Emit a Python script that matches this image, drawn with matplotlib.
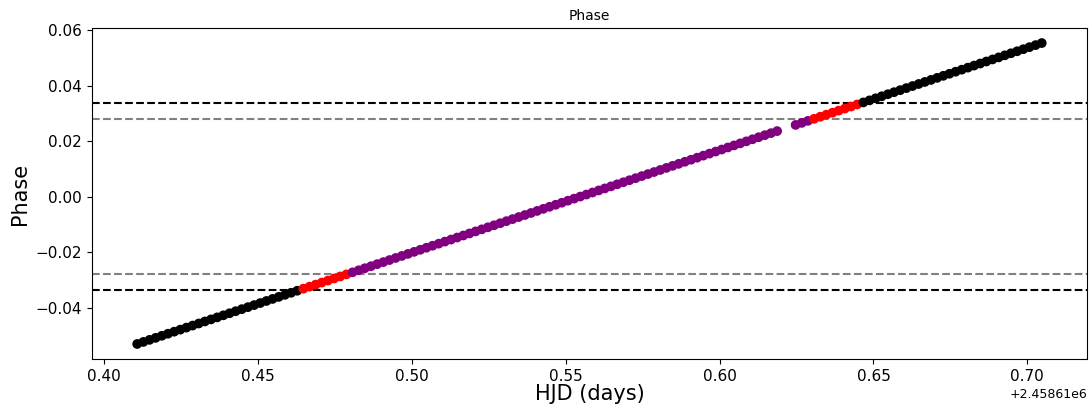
import matplotlib
matplotlib.use('Agg')
import matplotlib.pyplot as plt
import numpy as np

# HJD = base + fraction
hjd_base = 2458610.0
hjd_frac = [
    0.4107, 0.4127, 0.4147, 0.4167, 0.4187, 0.4207, 0.4227, 0.4247, 0.4267, 0.4287,
    0.4307, 0.4327, 0.4347, 0.4367, 0.4387, 0.4407, 0.4427, 0.4447, 0.4467, 0.4487,
    0.4507, 0.4527, 0.4547, 0.4567, 0.4587, 0.4607, 0.4627, 0.4647, 0.4667, 0.4687,
    0.4707, 0.4727, 0.4747, 0.4767, 0.4787, 0.4807, 0.4827, 0.4847, 0.4867, 0.4887,
    0.4907, 0.4927, 0.4947, 0.4967, 0.4987, 0.5007, 0.5027, 0.5047, 0.5067, 0.5087,
    0.5107, 0.5127, 0.5147, 0.5167, 0.5187, 0.5207, 0.5227, 0.5247, 0.5267, 0.5287,
    0.5307, 0.5327, 0.5347, 0.5367, 0.5387, 0.5407, 0.5427, 0.5447, 0.5467, 0.5487,
    0.5507, 0.5527, 0.5547, 0.5567, 0.5587, 0.5607, 0.5627, 0.5647, 0.5667, 0.5687,
    0.5707, 0.5727, 0.5747, 0.5767, 0.5787, 0.5807, 0.5827, 0.5847, 0.5867, 0.5887,
    0.5907, 0.5927, 0.5947, 0.5967, 0.5987, 0.6007, 0.6027, 0.6047, 0.6067, 0.6087,
    0.6107, 0.6127, 0.6147, 0.6167, 0.6187,
    0.6247, 0.6267, 0.6287, 0.6307, 0.6327, 0.6347, 0.6367, 0.6387, 0.6407,
    0.6427, 0.6447, 0.6467, 0.6487, 0.6507, 0.6527, 0.6547, 0.6567, 0.6587, 0.6607,
    0.6627, 0.6647, 0.6667, 0.6687, 0.6707, 0.6727, 0.6747, 0.6767, 0.6787, 0.6807,
    0.6827, 0.6847, 0.6867, 0.6887, 0.6907, 0.6927, 0.6947, 0.6967, 0.6987, 0.7007,
    0.7027, 0.7047,
]
phase = [
    -0.05310, -0.05236, -0.05162, -0.05089, -0.05015, -0.04941, -0.04867, -0.04793, -0.04720, -0.04646,
    -0.04572, -0.04498, -0.04424, -0.04351, -0.04277, -0.04203, -0.04129, -0.04055, -0.03982, -0.03908,
    -0.03834, -0.03760, -0.03686, -0.03613, -0.03539, -0.03465, -0.03391, -0.03317, -0.03244, -0.03170,
    -0.03096, -0.03022, -0.02948, -0.02875, -0.02801, -0.02727, -0.02653, -0.02579, -0.02506, -0.02432,
    -0.02358, -0.02284, -0.02210, -0.02137, -0.02063, -0.01989, -0.01915, -0.01841, -0.01768, -0.01694,
    -0.01620, -0.01546, -0.01472, -0.01399, -0.01325, -0.01251, -0.01177, -0.01103, -0.01030, -0.00956,
    -0.00882, -0.00808, -0.00734, -0.00661, -0.00587, -0.00513, -0.00439, -0.00365, -0.00292, -0.00218,
    -0.00144, -0.00070, 0.00004, 0.00077, 0.00151, 0.00225, 0.00299, 0.00373, 0.00446, 0.00520,
    0.00594, 0.00668, 0.00742, 0.00815, 0.00889, 0.00963, 0.01037, 0.01111, 0.01184, 0.01258,
    0.01332, 0.01406, 0.01480, 0.01553, 0.01627, 0.01701, 0.01775, 0.01849, 0.01922, 0.01996,
    0.02070, 0.02144, 0.02218, 0.02291, 0.02365,
    0.02587, 0.02660, 0.02734, 0.02808, 0.02882, 0.02956, 0.03029, 0.03103, 0.03177,
    0.03251, 0.03325, 0.03398, 0.03472, 0.03546, 0.03620, 0.03694, 0.03767, 0.03841, 0.03915,
    0.03989, 0.04063, 0.04136, 0.04210, 0.04284, 0.04358, 0.04432, 0.04505, 0.04579, 0.04653,
    0.04727, 0.04801, 0.04874, 0.04948, 0.05022, 0.05096, 0.05170, 0.05243, 0.05317, 0.05391,
    0.05465, 0.05539,
]

# transit contact limits in phase
outer_lim = 0.0337
inner_lim = 0.0280

hjd = hjd_base + np.array(hjd_frac)
ph = np.array(phase)

colors = []
for p in ph:
    if abs(p) > outer_lim:
        colors.append('black')
    elif abs(p) > inner_lim:
        colors.append('red')
    else:
        colors.append('purple')

fig = plt.figure(figsize=(10.91, 4.07), dpi=100)
ax = fig.add_subplot(111)
fig.subplots_adjust(left=0.0843, right=0.9963, top=0.9312, bottom=0.1179)

ax.scatter(hjd, ph, c=colors, s=36, zorder=3)
ax.axhline(outer_lim, color='black', ls='--')
ax.axhline(-outer_lim, color='black', ls='--')
ax.axhline(inner_lim, color='gray', ls='--')
ax.axhline(-inner_lim, color='gray', ls='--')

ax.set_title('Phase', fontsize=10)
ax.set_xlabel('HJD (days)', fontsize=15, labelpad=0)
ax.set_ylabel('Phase', fontsize=15)
ax.tick_params(labelsize=11)
ax.xaxis.get_offset_text().set_fontsize(9)

plt.savefig('out.png')
